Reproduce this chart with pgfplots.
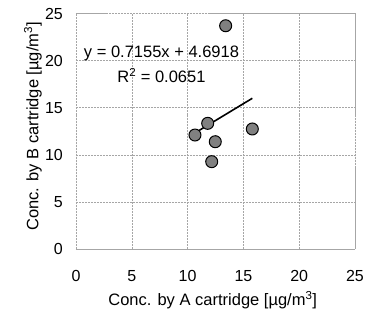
\documentclass[border=0pt]{standalone}
\usepackage{fontspec}
\setmainfont{Liberation Sans}
\usepackage{pgfplots}
\usetikzlibrary{calc}
\pgfplotsset{compat=1.18}
\begin{document}
\fontsize{16.5bp}{19bp}\selectfont
\begin{tikzpicture}
\begin{axis}[
  scale only axis,
  width=279bp, height=235.5bp,
  xmin=0, xmax=25, ymin=0, ymax=25,
  xtick={0,5,...,25}, ytick={0,5,...,25},
  grid=major,
  major grid style={gray!70, dash pattern=on 2pt off 1pt, line width=0.5pt},
  axis line style={gray!70, dash pattern=on 2pt off 1pt, line width=0.5pt},
  major tick length=0pt,
  /pgf/number format/assume math mode=true,
  tick label style={font=\fontsize{16bp}{19bp}\selectfont, inner sep=0pt},
  yticklabel style={anchor=east, xshift=-13bp},
  xticklabel style={anchor=north, yshift=-21bp},
  label style={font=\fontsize{16.5bp}{19bp}\selectfont, inner sep=0pt},
  xlabel={Conc. by A cartridge [µg/m\textsuperscript{3}]},
  ylabel={Conc. by B cartridge [µg/m\textsuperscript{3}]},
  xlabel style={at={(axis description cs:0.49,0)}, anchor=north, yshift=-42bp},
  ylabel style={at={(axis description cs:-0.1219,0.521)}, anchor=south},
  clip=false,
]
\addplot[black, line width=1.6bp] coordinates {(10.66,12.32) (15.8,16.00)};
\addplot[only marks, mark=*, mark size=6bp, mark options={fill=gray, draw=black, line width=1bp}] coordinates {
(13.41,23.7) (11.8,13.34) (10.66,12.1) (12.48,11.39) (12.16,9.27) (15.8,12.74)
};
\node[font=\fontsize{16.5bp}{19bp}\selectfont, inner sep=0pt] at (axis cs:7.66,20.8) {y = 0.7155x + 4.6918};
\node[font=\fontsize{16.5bp}{19bp}\selectfont, inner sep=0pt] at (axis cs:7.66,18.45) {R\textsuperscript{2} = 0.0651};
\end{axis}
\pgfresetboundingbox
\path ($(current axis.south west)+(-76bp,-73bp)$) rectangle ($(current axis.north east)+(14bp,13.5bp)$);
\end{tikzpicture}
\end{document}
